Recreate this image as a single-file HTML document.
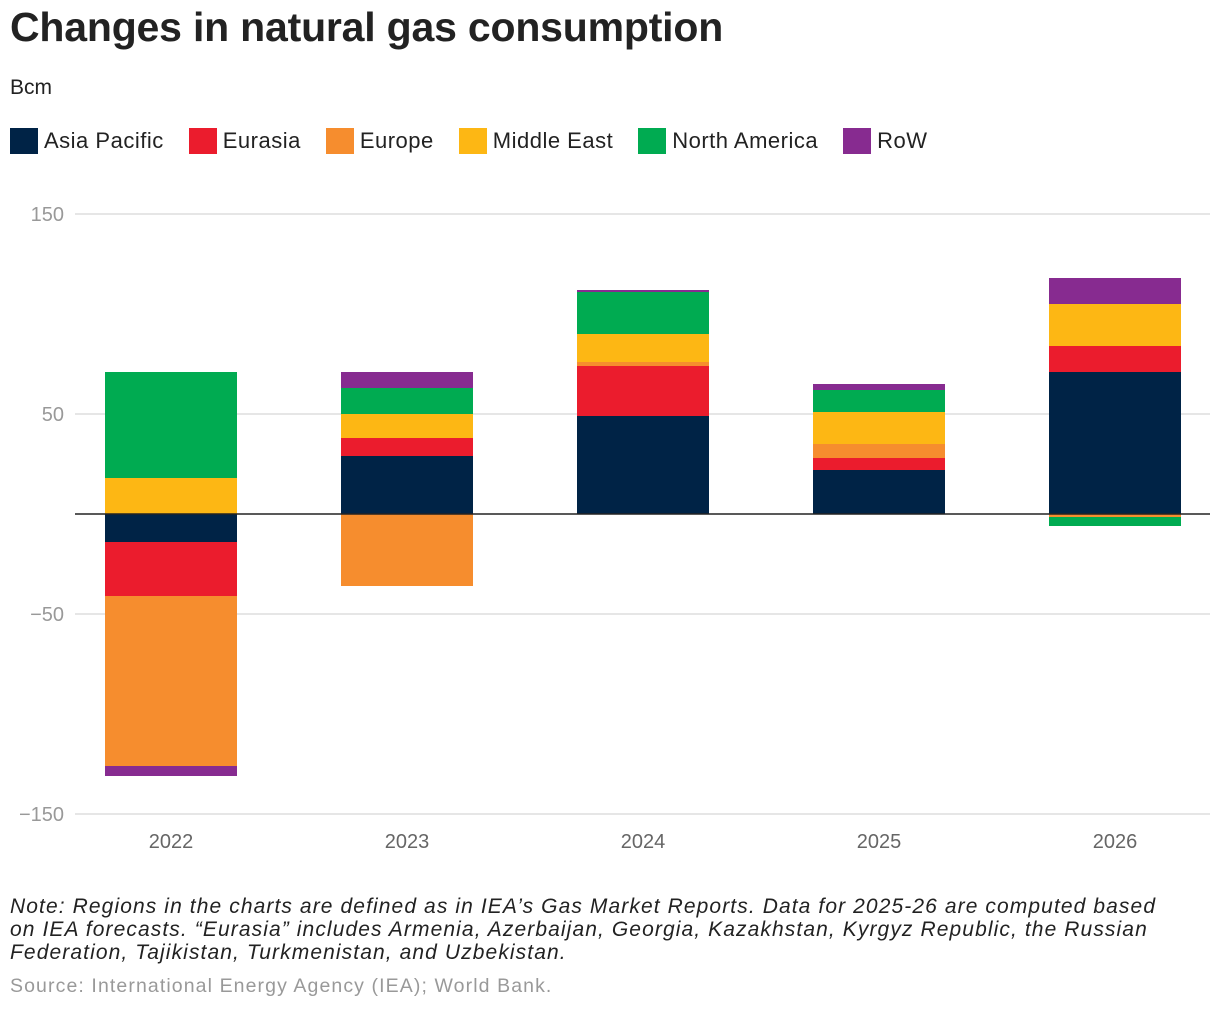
<!DOCTYPE html>
<html><head><meta charset="utf-8"><style>
body{margin:0;width:1220px;height:1010px;background:#fff;font-family:"Liberation Sans",Arial,sans-serif;color:#222;position:relative;overflow:hidden}
h1{position:absolute;left:10px;top:4px;margin:0;font-size:41px;font-weight:bold;letter-spacing:-0.2px;color:#222}
.unit{position:absolute;left:10px;top:76px;font-size:21px}
.legend{position:absolute;left:10px;top:128px;display:flex;font-size:22px;letter-spacing:0.5px}
.li{display:flex;align-items:center;margin-right:25px}
.sw{width:28px;height:26px;margin-right:6px}
.note{position:absolute;left:10px;top:895px;width:1210px;font-size:21px;font-style:italic;line-height:23px;letter-spacing:1.1px;white-space:nowrap}
.src{position:absolute;left:10px;top:975px;font-size:19.5px;color:#999;letter-spacing:1.1px}
</style></head><body>
<h1>Changes in natural gas consumption</h1>
<div class="unit">Bcm</div>
<div class="legend" id="legend"></div>
<svg id="chart" width="1220" height="880" style="position:absolute;left:0;top:0"></svg>
<div class="note">Note: Regions in the charts are defined as in IEA’s Gas Market Reports. Data for 2025-26 are computed based<br>on IEA forecasts. “Eurasia” includes Armenia, Azerbaijan, Georgia, Kazakhstan, Kyrgyz Republic, the Russian<br>Federation, Tajikistan, Turkmenistan, and Uzbekistan.</div>
<div class="src">Source: International Energy Agency (IEA); World Bank.</div>
<script>
const categories=["2022","2023","2024","2025","2026"];
const seriesNames=["Asia Pacific","Eurasia","Europe","Middle East","North America","RoW"];
const colors=["#002346","#eb1c2d","#f68d2e","#fdb714","#00ab51","#872b90"];
const asiaPacific=[-14,29,49,22,71];
const eurasia=[-27,9,25,6,13];
const europe=[-85,-36,2,7,-1.5];
const middleEast=[18,12,14,16,21];
const northAmerica=[53,13,21,11,-4.5];
const row=[-5,8,1,3,13];
const yTicks=[150,50,-50,-150];
const yTickLabels=["150","50","−50","−150"];
const values=[asiaPacific,eurasia,europe,middleEast,northAmerica,row];
const NS="http://www.w3.org/2000/svg";
const svg=document.getElementById("chart");
const y=v=>514-v*2;
const xc=i=>171+i*236;
const bw=132;
function mk(t,a){const e=document.createElementNS(NS,t);for(const k in a)e.setAttribute(k,a[k]);svg.appendChild(e);return e;}
yTicks.forEach((t,i)=>{
 const l=mk("line",{x1:75,x2:1210,y1:y(t),y2:y(t),stroke:"#ddd","stroke-width":1.5});
 
 
 const tx=mk("text",{x:64,y:y(t)+7,"text-anchor":"end","font-size":20,fill:"#999"});
 tx.textContent=yTickLabels[i];
 
 
});
categories.forEach((c,i)=>{
 let pos=0,neg=0;
 values.forEach((s,j)=>{
  const v=s[i];let y0,y1;
  if(v>=0){y0=pos;pos+=v;y1=pos;}else{y0=neg;neg+=v;y1=neg;}
  const r=mk("rect",{x:xc(i)-bw/2,y:Math.min(y(y0),y(y1)),width:bw,height:Math.abs(y(y1)-y(y0)),fill:colors[j]});
  
  
 });
 const t=mk("text",{x:xc(i),y:848,"text-anchor":"middle","font-size":20,fill:"#666"});
 t.textContent=c;
 
 
});
const z=mk("line",{x1:75,x2:1210,y1:y(0),y2:y(0),stroke:"#222","stroke-width":1.5});


const lg=document.getElementById("legend");
seriesNames.forEach((n,j)=>{
 const d=document.createElement("div");d.className="li";
 
 
 d.innerHTML='<div class="sw" style="background:'+colors[j]+'"></div>'+n;
 lg.appendChild(d);
});
</script>
</body></html>
